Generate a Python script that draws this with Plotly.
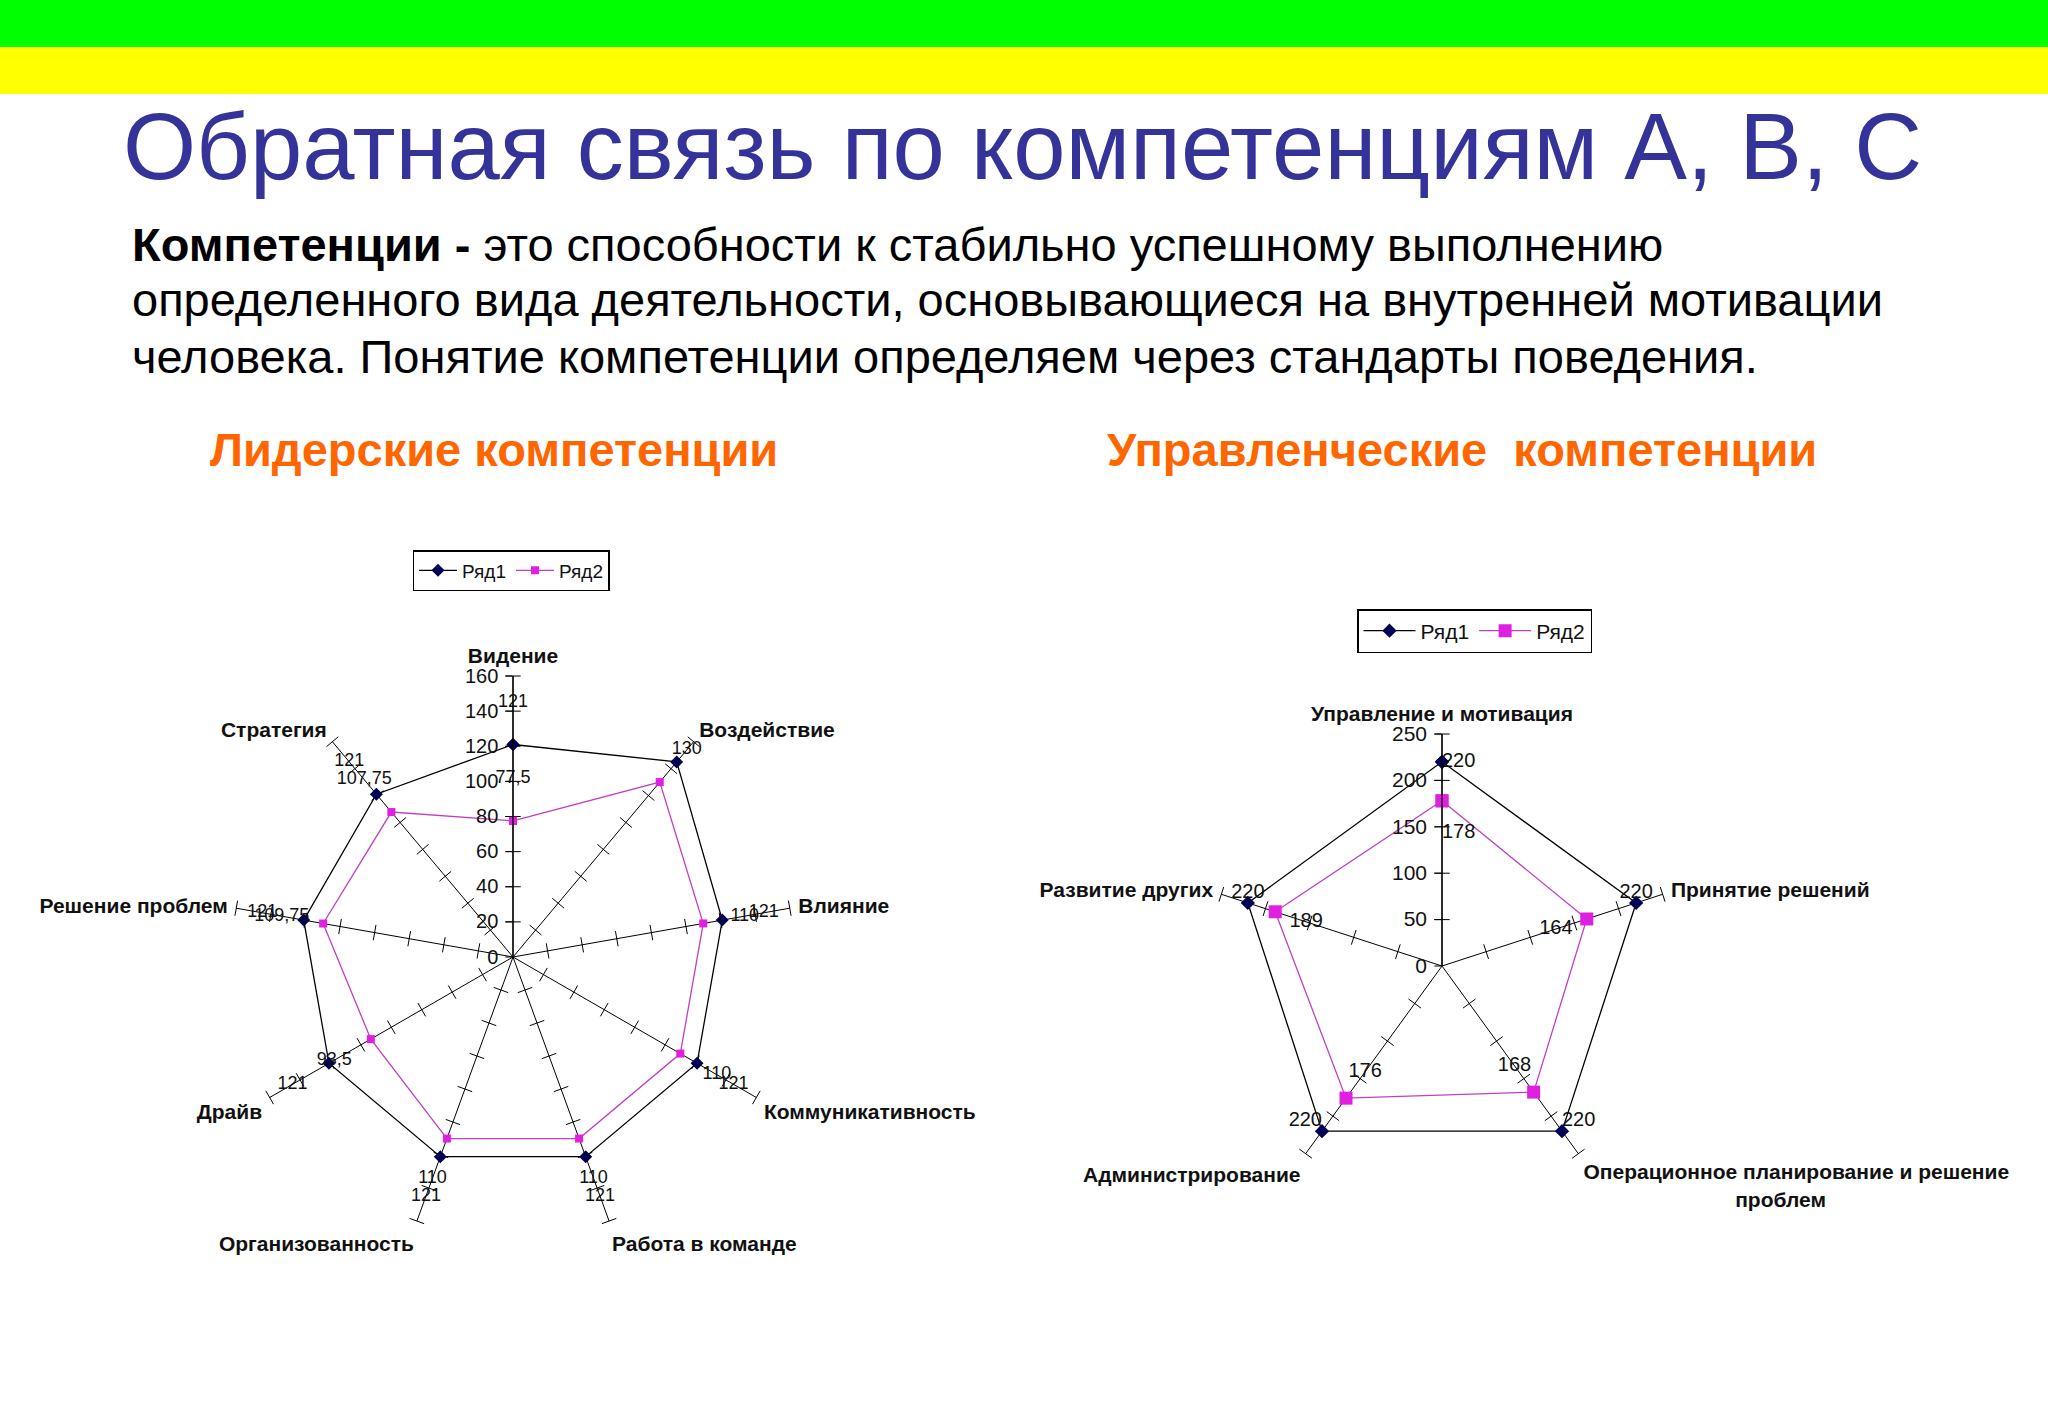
import plotly.graph_objects as go

# ---------------- data ----------------
lead_categories = ["Видение", "Воздействие", "Влияние", "Коммуникативность",
                   "Работа в команде", "Организованность", "Драйв",
                   "Решение проблем", "Стратегия"]
lead_row1 = [121, 145, 121, 121, 121, 121, 121, 121, 121]
lead_row2 = [77.5, 130, 110, 110, 110, 110, 93.5, 109.75, 107.75]
lead_ticks = [0, 20, 40, 60, 80, 100, 120, 140, 160]

man_categories = ["Управление и мотивация", "Принятие решений",
                  "Операционное планирование и решение<br>" + "&nbsp;" * 26 + "проблем",
                  "Администрирование", "Развитие других"]
man_row1 = [220, 220, 220, 220, 220]
man_row2 = [178, 164, 168, 176, 189]
man_ticks = [0, 50, 100, 150, 200, 250]

series_names = ["Ряд1", "Ряд2"]

title_text = "Обратная связь по компетенциям А, В, С"
body_lines = [
    "<b>Компетенции -</b> это способности к стабильно успешному выполнению",
    "определенного вида деятельности, основывающиеся на внутренней мотивации",
    "человека. Понятие компетенции определяем через стандарты поведения.",
]
sub_left = "Лидерские компетенции"
sub_right = "Управленческие  компетенции"

# ---------------- style ----------------
FONT = "Arial, 'Liberation Sans', sans-serif"
C1_LINE = "#000000"
C1_MARK = "#000055"
C2_LINE = "#C040C0"
C2_MARK = "#E020E0"
W, H = 2048, 1413


def fmt(v):
    s = ("%g" % v)
    return s.replace(".", ",")


def closed(a):
    return list(a) + [a[0]]


fig = go.Figure()

# --- spoke tick marks (drawn from axis tick values) ---
def spoke_ticks(cats, ticks, subplot):
    n = len(cats)
    th, rr, ang = [], [], []
    for i, c in enumerate(cats):
        for t in ticks[1:]:
            th.append(c)
            rr.append(t)
            ang.append(i * 360.0 / n)
    fig.add_trace(go.Scatterpolar(
        r=rr, theta=th, mode="markers", subplot=subplot, cliponaxis=False,
        marker=dict(symbol="line-ew", size=11, angle=ang,
                    line=dict(width=1, color="black"), color="black"),
        showlegend=False, hoverinfo="skip"))


spoke_ticks(lead_categories, lead_ticks, "polar")
spoke_ticks(man_categories, man_ticks, "polar2")

# --- left chart series ---
fig.add_trace(go.Scatterpolar(
    r=closed(lead_row1), theta=closed(lead_categories), mode="lines+markers",
    name=series_names[0], subplot="polar", legend="legend", cliponaxis=False,
    line=dict(color=C1_LINE, width=1.3),
    marker=dict(symbol="diamond", size=10, color=C1_MARK)))
fig.add_trace(go.Scatterpolar(
    r=closed(lead_row2), theta=closed(lead_categories), mode="lines+markers",
    name=series_names[1], subplot="polar", legend="legend", cliponaxis=False,
    line=dict(color=C2_LINE, width=1.3),
    marker=dict(symbol="square", size=8, color=C2_MARK)))

LEAD_OFF = 24
for vals in (lead_row1, lead_row2):
    fig.add_trace(go.Scatterpolar(
        r=[v + LEAD_OFF for v in vals], theta=lead_categories, mode="text",
        text=[fmt(v) for v in vals], textposition="middle center",
        textfont=dict(family=FONT, size=18, color="#111"), cliponaxis=False,
        subplot="polar", showlegend=False, hoverinfo="skip"))

# --- right chart series ---
fig.add_trace(go.Scatterpolar(
    r=closed(man_row1), theta=closed(man_categories), mode="lines+markers",
    name=series_names[0], subplot="polar2", legend="legend2", cliponaxis=False,
    line=dict(color=C1_LINE, width=1.3),
    marker=dict(symbol="diamond", size=11, color=C1_MARK)))
fig.add_trace(go.Scatterpolar(
    r=closed(man_row2), theta=closed(man_categories), mode="lines+markers",
    name=series_names[1], subplot="polar2", legend="legend2", cliponaxis=False,
    line=dict(color=C2_LINE, width=1.3),
    marker=dict(symbol="square", size=13, color=C2_MARK)))

fig.add_trace(go.Scatterpolar(
    r=man_row1, theta=man_categories, mode="text",
    text=[fmt(v) for v in man_row1],
    textposition=["middle right", "top center", "top right", "top left", "top center"],
    textfont=dict(family=FONT, size=20, color="#111"), cliponaxis=False,
    subplot="polar2", showlegend=False, hoverinfo="skip"))
MAN_OFF = 35
fig.add_trace(go.Scatterpolar(
    r=[v - MAN_OFF for v in man_row2], theta=man_categories, mode="text",
    text=[fmt(v) for v in man_row2],
    textposition=["middle right", "middle center", "middle center", "middle center", "middle center"],
    textfont=dict(family=FONT, size=20, color="#111"), cliponaxis=False,
    subplot="polar2", showlegend=False, hoverinfo="skip"))


def polar_layout(domain_x, domain_y, ticks, lab_size, tick_size):
    return dict(
        domain=dict(x=domain_x, y=domain_y),
        bgcolor="white",
        gridshape="linear",
        radialaxis=dict(range=[ticks[0], ticks[-1]], tickvals=ticks,
                        angle=90, side="counterclockwise", tickangle=90,
                        showline=True, linecolor="black", linewidth=1.3,
                        showgrid=False, ticks="outside", ticklen=7,
                        tickcolor="black",
                        tickfont=dict(family=FONT, size=tick_size, color="#111")),
        angularaxis=dict(direction="clockwise", rotation=90,
                         showline=False, showgrid=True, gridcolor="black",
                         gridwidth=1, ticks="outside", ticklen=4,
                         tickcolor="rgba(0,0,0,0)",
                         tickfont=dict(family=FONT, size=lab_size, color="#111",
                                       weight="bold")),
    )


def px_domain(cx, cy, rad):
    return ([(cx - rad) / W, (cx + rad) / W],
            [(H - cy - rad) / H, (H - cy + rad) / H])


lx, ly = px_domain(513, 957, 281)
rx, ry = px_domain(1442, 966, 232)


def legend_style(size, iw):
    return dict(orientation="h", bgcolor="white", bordercolor="black",
                borderwidth=1.5, font=dict(family=FONT, size=size, color="#111"),
                itemwidth=iw, tracegroupgap=0)


fig.update_layout(
    width=W, height=H, margin=dict(l=0, r=0, t=0, b=0),
    paper_bgcolor="white", plot_bgcolor="white",
    font=dict(family=FONT),
    polar=polar_layout(lx, ly, lead_ticks, 21, 20),
    polar2=polar_layout(rx, ry, man_ticks, 21, 21),
    legend=dict(x=511 / W, xanchor="center", y=1 - 550 / H, yanchor="top",
                **legend_style(19, 38)),
    legend2=dict(x=1357 / W, xanchor="left", y=1 - 609 / H, yanchor="top",
                 **legend_style(21, 52)),
    shapes=[
        dict(type="rect", xref="paper", yref="paper", x0=0, x1=1,
             y0=1 - 47 / H, y1=1, fillcolor="#00FF00", line=dict(width=0),
             layer="below"),
        dict(type="rect", xref="paper", yref="paper", x0=0, x1=1,
             y0=1 - 94 / H, y1=1 - 47 / H, fillcolor="#FFFF00",
             line=dict(width=0), layer="below"),
    ],
)

ann = [dict(text=title_text, x=1022 / W, y=1 - 147 / H, xanchor="center",
            yanchor="middle", font=dict(family=FONT, size=94, color="#333399"))]
for txt, yc in zip(body_lines, [244, 300, 356]):
    ann.append(dict(text=txt, x=130 / W, y=1 - yc / H, xanchor="left",
                    yanchor="middle", font=dict(family=FONT, size=47, color="black")))
ann.append(dict(text="<b>%s</b>" % sub_left, x=494 / W, y=1 - 450 / H,
                xanchor="center", yanchor="middle",
                font=dict(family=FONT, size=47, color="#FF6600")))
ann.append(dict(text="<b>%s</b>" % sub_right, x=1462 / W, y=1 - 450 / H,
                xanchor="center", yanchor="middle",
                font=dict(family=FONT, size=47, color="#FF6600")))
for a in ann:
    a.update(xref="paper", yref="paper", showarrow=False)
fig.update_layout(annotations=ann)

fig.write_html("out.html", config={"displayModeBar": False},
               post_script="document.body.style.margin='0';")
